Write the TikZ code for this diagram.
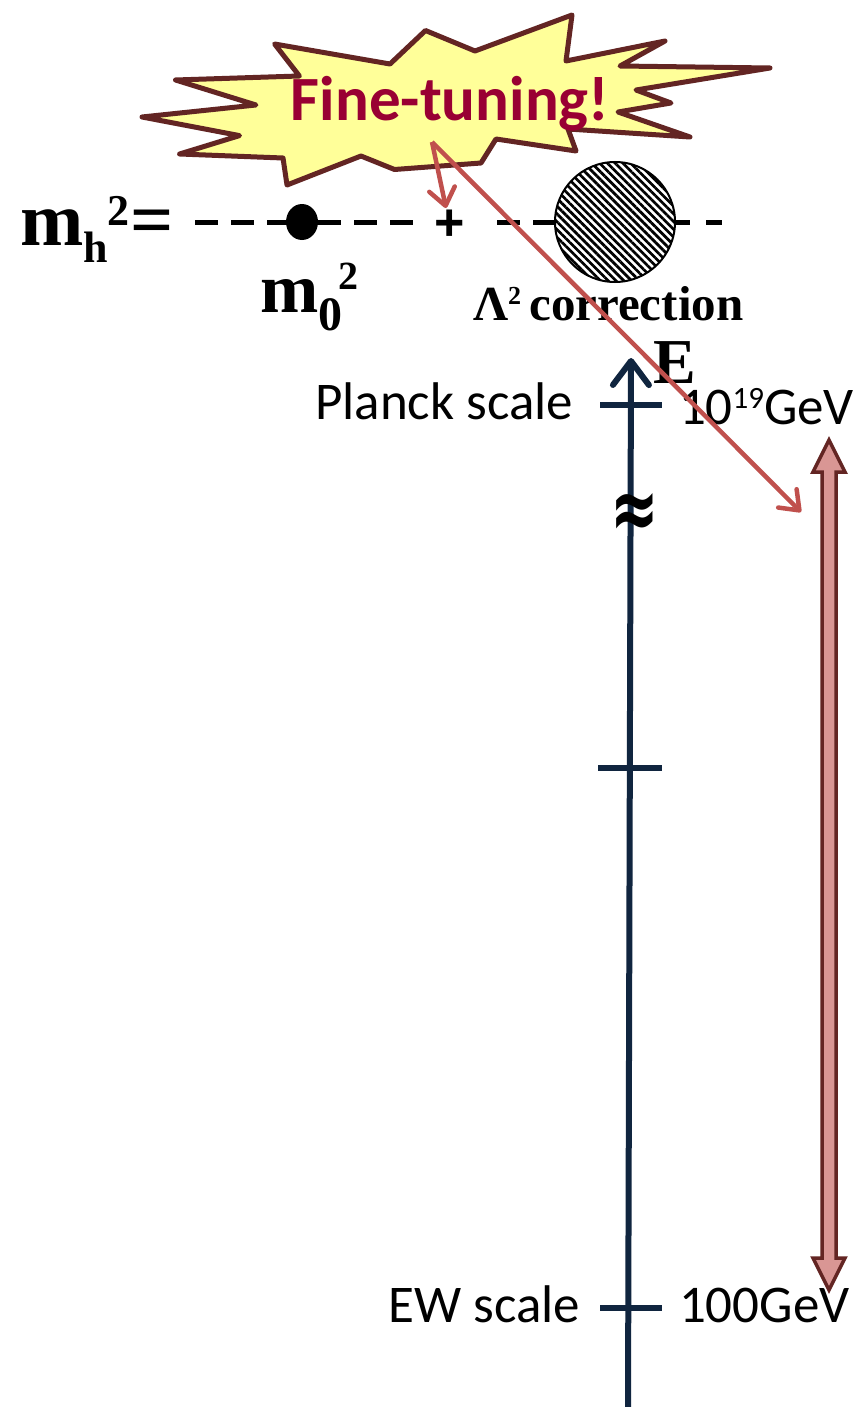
\documentclass[tikz,border=0pt]{standalone}
\usepackage{fontspec}
\setmainfont{Liberation Serif}
\newfontfamily\carlitofont{Carlito}
\newfontfamily\dejavusansfont{DejaVu Sans}
\newfontfamily\libsansfont{Liberation Sans}
\usetikzlibrary{arrows.meta,patterns.meta}
\definecolor{starfill}{HTML}{FFFF99}
\definecolor{staredge}{HTML}{632523}
\definecolor{finecol}{HTML}{990033}
\definecolor{redarrow}{HTML}{C0504D}
\definecolor{axiscol}{HTML}{10253F}
\definecolor{pinkfill}{HTML}{D99694}
\begin{document}
\begin{tikzpicture}[x=1pt,y=-1pt,
  txt/.style={inner sep=0pt,outer sep=0pt},
  sanslabel/.style={txt,font=\carlitofont\fontsize{53}{60}\selectfont},
  dashline/.style={line width=5pt,dash pattern=on 23pt off 13pt},
  redarr/.style={draw=redarrow,line width=4.5pt,-{Straight Barb[length=17pt,width=26pt,round]}},
  tick/.style={draw=axiscol,line width=6pt},
]
\fill[white] (0,0) rectangle (865,1407);
\useasboundingbox (0,0) rectangle (865,1407);

% starburst
\filldraw[fill=starfill,draw=staredge,line width=5pt,line join=round]
 (274.6,44) -- (390,64) -- (425.5,30.5) -- (475,51) -- (572,15) -- (566,61)
 -- (665,41) -- (620,66) -- (770,68) -- (636,90) -- (671,103) -- (618,112)
 -- (690,137) -- (568,129) -- (576,151) -- (496,139) -- (481,163)
 -- (394.5,169.5) -- (361,156) -- (287,185) -- (283,158) -- (179.6,154)
 -- (239.5,135.6) -- (142,117) -- (256,105) -- (175.5,80) -- (299.4,76) -- cycle;
\node[txt,anchor=base,text=finecol] (fine) at (450,121)
 {\carlitofont\bfseries\fontsize{63}{63}\selectfont Fine-tuning!};

% equation line
\node[txt,anchor=base west] (mh) at (20,245)
 {\fontsize{76}{80}\selectfont\bfseries m\raisebox{-17pt}{\fontsize{44}{44}\selectfont h}\raisebox{20pt}{\fontsize{44}{44}\selectfont 2}\kern1pt=};
\coordinate (d1a) at (195,222);
\coordinate (d1b) at (290,222);
\coordinate (d2a) at (318,222);
\coordinate (d2b) at (420,222);
\coordinate (d3a) at (497,222);
\coordinate (d3b) at (560,222);
\coordinate (d4a) at (672,222);
\coordinate (d4b) at (722,222);
\draw[dashline] (d1a) -- (d1b);
\draw[dashline] (d2a) -- (d2b);
\draw[dashline] (d3a) -- (d3b);
\draw[line width=5pt,dash pattern=on 18pt off 16pt] (d4a) -- (d4b);
\fill[black] (302,222) ellipse [x radius=16pt,y radius=18pt];
\node[txt] (dot) at (302,222) {};
\node[txt,font=\libsansfont\bfseries\fontsize{52}{52}\selectfont] (plus) at (450,225) {+};
\fill[white] (615,222) circle [radius=60pt];
\node[circle,minimum size=120pt,inner sep=0pt,draw=black,line width=2pt,
  pattern={Lines[angle=-45,distance=5.5pt,line width=2.7pt]}] (loop) at (615,222) {};

\node[txt,anchor=base west] (m0) at (260,312)
 {\fontsize{70}{70}\selectfont\bfseries m\raisebox{-18pt}{\fontsize{48}{48}\selectfont 0}\kern-4pt\raisebox{23pt}{\fontsize{40}{40}\selectfont 2}};
\node[txt,anchor=base west] (corr) at (473,320)
 {\fontsize{49}{49}\selectfont\bfseries Λ\raisebox{16pt}{\fontsize{26}{26}\selectfont 2}\,correction};

% energy axis
\coordinate (axbot) at (628,1407);
\coordinate (axtop) at (631,358);
\draw[axiscol,line width=6pt,-{Straight Barb[length=24pt,width=36pt,round]}] (axbot) -- (axtop);
\coordinate (t1a) at (600,405); \coordinate (t1b) at (662,405);
\coordinate (t2a) at (598,768); \coordinate (t2b) at (662,768);
\coordinate (t3a) at (600,1308); \coordinate (t3b) at (662,1308);
\draw[tick] (t1a) -- (t1b);
\draw[tick] (t2a) -- (t2b);
\draw[tick] (t3a) -- (t3b);
\node[txt,font=\dejavusansfont\bfseries\fontsize{58}{58}\selectfont] (approx) at (635,516) {\scalebox{1}[1.5]{≈}};
\node[txt,anchor=base west] (E) at (653,383) {\fontsize{64}{64}\selectfont\bfseries E};

\node[sanslabel,anchor=base east] (planck) at (573,419) {Planck scale};
\node[sanslabel,anchor=base west] (gev19) at (679,424) {10\raisebox{16pt}{\fontsize{31}{31}\selectfont 19}GeV};
\node[sanslabel,anchor=base east] (ew) at (580,1322) {EW scale};
\node[sanslabel,anchor=base west] (gev2) at (679,1322) {100GeV};

% double arrow
\filldraw[fill=pinkfill,draw=staredge,line width=3.5pt,line join=miter]
 (829,440) -- (845,472) -- (836,472) -- (836,1258) -- (845,1258) -- (829,1290)
 -- (813,1258) -- (822,1258) -- (822,472) -- (813,472) -- cycle;

% red arrows
\coordinate (src) at (432,142);
\coordinate (plusend) at (446,208);
\coordinate (rangeend) at (801,512);
\draw[redarr] (src) -- (plusend);
\draw[redarr] (src) -- (rangeend);
\end{tikzpicture}
\end{document}
